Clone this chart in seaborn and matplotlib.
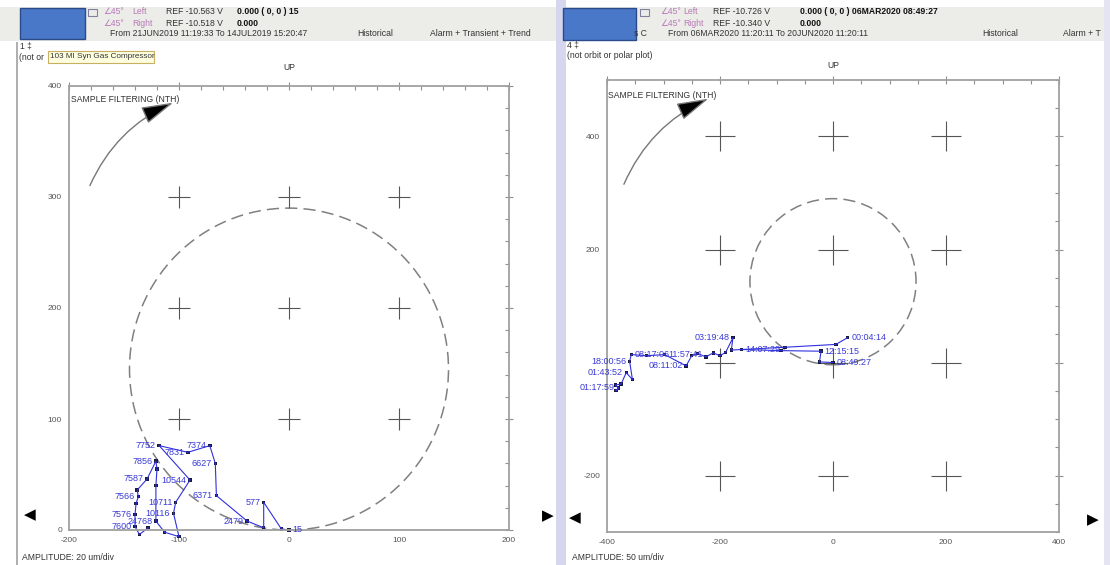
import pandas as pd
import seaborn as sns
import matplotlib.pyplot as plt
from matplotlib.patches import Rectangle, Circle
from matplotlib.ticker import MultipleLocator

W, H = 1110, 565

# ---- left orbit, 20 um/div ----
left_x = [0, -7, -23, -23, -38, -66, -67, -72, -92, -118, -90, -103, -105, -100,
          -113, -121, -121, -120, -121, -129, -138, -137, -139, -140, -140, -136, -128]
left_y = [0, 1, 25, 2, 8, 31, 60, 76, 70, 76, 45, 25, 15, -6,
          -2, 8, 40, 55, 62, 46, 36, 30, 24, 14, 3, -4, 2]
left_lbl = ["15", "", "577", "", "2479", "6371", "6627", "7374", "7831", "7752", "10544",
            "10711", "10116", "18716", "", "24768", "", "", "7856", "7587", "", "7566",
            "", "7576", "7600", "", ""]

# ---- right orbit, 50 um/div (two trace pieces) ----
right_seg = ["a"] * 24 + ["b"] * 5
right_x = [26, 5, -85, -162, -180, -177, -190, -200, -212, -225, -240, -250, -260,
           -298, -330, -357, -360, -355, -366, -375, -385, -380, -384, -380,
           -162, -92, -21, -24, 0]
right_y = [44, 32, 27, 23, 22, 44, 18, 12, 17, 10, 16, 12, -6,
           14, 12, 14, 2, -30, -18, -38, -40, -45, -50, -45,
           23, 21, 20, 1, 0]
right_lbl = ["00:04:14", "", "", "14:07:29", "", "03:19:48", "", "", "", "", "", "", "08:11:02",
             "11:57:41", "", "08:17:06", "18:00:56", "", "01:43:52", "", "", "01:17:59", "", "",
             "", "", "12:15:15", "", "08:49:27"]

# filter circle (centre x, centre y, radius) and the reference crosses
left_circle = (0, 145, 145)
right_circle = (0, 143, 147)
left_cross_x = [-100, 0, 100]
left_cross_y = [100, 200, 300]
right_cross_x = [-200, 0, 200]
right_cross_y = [-200, 0, 200, 400]

LABEL_RIGHT = {"15", "00:04:14", "14:07:29", "11:57:41", "08:17:06", "12:15:15", "08:49:27"}

sns.set_style("white")
plt.rcParams['font.family'] = ['Liberation Sans', 'DejaVu Sans']
plt.rcParams['axes.unicode_minus'] = False

fig = plt.figure(figsize=(W / 100, H / 100), dpi=100)


def fx(x):
    return x / W


def fy(y):
    return 1 - y / H


def ftext(x, y, s, size=6.2, color='#333333', **kw):
    fig.text(fx(x), fy(y), s, fontsize=size, color=color, va='center', ha=kw.pop('ha', 'left'), **kw)


def frect(x0, y0, x1, y1, **kw):
    fig.patches.append(Rectangle((fx(x0), fy(y1)), (x1 - x0) / W, (y1 - y0) / H,
                                 transform=fig.transFigure, figure=fig, **kw))


# window chrome
frect(0, 7, 556, 41, fc='#ecece8', ec='none')
frect(566, 7, 1104, 41, fc='#ecece8', ec='none')
frect(556, 0, 566, H, fc='#d6d6ee', ec='none')
frect(1104, 0, W, H, fc='#e4e4f2', ec='none')
frect(16, 42, 17.5, H, fc='#b0b0b0', ec='none')
frect(20, 8, 85, 39, fc='#4a78c8', ec='#2a4a8a', lw=1)
frect(563, 8, 636, 40, fc='#4a78c8', ec='#2a4a8a', lw=1)
frect(88, 9, 97, 16, fc='none', ec='#8080a0', lw=0.8)
frect(640, 9, 649, 16, fc='none', ec='#8080a0', lw=0.8)

pink = '#b87ab8'
for x0, xs in [(103, [132, 166, 237]), (660, [683, 713, 800])]:
    ftext(x0, 12, "∠45°", color=pink)
    ftext(x0, 23, "∠45°", color=pink)
    ftext(xs[0], 12, "Left", color=pink)
    ftext(xs[0], 23, "Right", color=pink)

ftext(166, 12, "REF -10.563 V")
ftext(166, 23, "REF -10.518 V")
ftext(237, 12, "0.000 ( 0, 0 ) 15", color='#111111', weight='bold')
ftext(237, 23, "0.000", color='#111111', weight='bold')
ftext(110, 34, "From 21JUN2019 11:19:33 To 14JUL2019 15:20:47")
ftext(357, 34, "Historical")
ftext(430, 34, "Alarm + Transient + Trend")
ftext(20, 46, "1 ‡")
ftext(19, 57, "(not or")
frect(48, 51, 154, 63, fc='#ffffe0', ec='#c8b060', lw=0.8)
ftext(50, 57, "103 MI Syn Gas Compressor", size=5.9)

ftext(713, 12, "REF -10.726 V")
ftext(713, 23, "REF -10.340 V")
ftext(800, 12, "0.000 ( 0, 0 ) 06MAR2020 08:49:27", color='#111111', weight='bold')
ftext(800, 23, "0.000", color='#111111', weight='bold')
ftext(634, 34, "s C")
ftext(668, 34, "From 06MAR2020 11:20:11 To 20JUN2020 11:20:11")
ftext(982, 34, "Historical")
ftext(1063, 34, "Alarm + T")
ftext(567, 45, "4 ‡")
ftext(567, 56, "(not orbit or polar plot)")

ftext(289, 67, "UP", ha='center')
ftext(833, 66, "UP", ha='center')
ftext(22, 557, "AMPLITUDE: 20 um/div")
ftext(572, 557, "AMPLITUDE: 50 um/div")
ftext(24, 515, "◀", size=11, color='black')
ftext(542, 516, "▶", size=11, color='black')
ftext(569, 518, "◀", size=11, color='black')
ftext(1087, 520, "▶", size=11, color='black')


def orbit(ax, df, xlim, ylim, major, minor, circle, cx, cy, cross_s, units=None):
    ax.set_xlim(*xlim)
    ax.set_ylim(*ylim)
    c = Circle(circle[:2], circle[2], fill=False, ec='#808080', lw=1.1, ls=(0, (8, 4)))
    ax.add_patch(c)
    crosses = pd.DataFrame([(a, b) for a in cx for b in cy], columns=['x', 'y'])
    sns.scatterplot(data=crosses, x='x', y='y', marker='+', s=cross_s, color='#555555',
                    linewidth=0.8, ax=ax, legend=False)
    if units:
        sns.lineplot(data=df, x='x', y='y', units=units, estimator=None, sort=False,
                     color='#3030e0', lw=0.8, ax=ax, legend=False)
    else:
        sns.lineplot(data=df, x='x', y='y', estimator=None, sort=False,
                     color='#3030e0', lw=0.8, ax=ax, legend=False)
    sns.scatterplot(data=df, x='x', y='y', s=6, color='#1a1a40', marker='s',
                    edgecolor='none', ax=ax, legend=False)
    for ln in ax.lines:
        ln.set_clip_on(False)
    for coll in ax.collections:
        coll.set_clip_on(False)
    for _, r in df[df['lbl'] != ""].iterrows():
        right = r['lbl'] in LABEL_RIGHT
        ax.annotate(r['lbl'], (r['x'], r['y']), xytext=(2.5 if right else -2.5, 0),
                    textcoords='offset points', ha='left' if right else 'right',
                    va='center', fontsize=6.5, color='#3a3ad8')
    ax.xaxis.set_major_locator(MultipleLocator(major))
    ax.yaxis.set_major_locator(MultipleLocator(major))
    ax.xaxis.set_minor_locator(MultipleLocator(minor))
    ax.yaxis.set_minor_locator(MultipleLocator(minor))
    ax.tick_params(which='major', direction='inout', length=6, width=0.8, color='#909090',
                   labelsize=6, labelcolor='#555555', top=True, right=True, pad=2)
    ax.tick_params(which='minor', direction='in', length=3, width=0.8, color='#909090',
                   top=True, right=True)
    for sp in ax.spines.values():
        sp.set_color('#a0a0a0')
        sp.set_linewidth(1.3)
    ax.set_xlabel('')
    ax.set_ylabel('')


left_df = pd.DataFrame({'x': left_x, 'y': left_y, 'lbl': left_lbl})
right_df = pd.DataFrame({'seg': right_seg, 'x': right_x, 'y': right_y, 'lbl': right_lbl})

ax1 = fig.add_axes([69 / W, (H - 530) / H, 440 / W, 444 / H])
orbit(ax1, left_df, (-200, 200), (0, 400), 100, 20, left_circle,
      left_cross_x, left_cross_y, 250)
ax1.text(-198, 388, "SAMPLE FILTERING (NTH)", fontsize=6.2, color='#333333', va='center')
ax1.annotate("", xy=(-103, 386), xytext=(-182, 308),
             arrowprops=dict(arrowstyle="-|>,head_length=0.8,head_width=0.22",
                             connectionstyle="arc3,rad=-0.2", mutation_scale=25,
                             fc='black', ec='#777777', lw=1))

ax2 = fig.add_axes([607 / W, 33 / H, 452 / W, 452 / H])
orbit(ax2, right_df, (-400, 400), (-300, 500), 200, 50, right_circle,
      right_cross_x, right_cross_y, 470, units='seg')
ax2.set_yticks([-200, 0, 200, 400])
ax2.set_yticklabels(['-200', '', '200', '400'])
ax2.text(-398, 472, "SAMPLE FILTERING (NTH)", fontsize=6.2, color='#333333', va='center')
ax2.annotate("", xy=(-216, 469), xytext=(-372, 311),
             arrowprops=dict(arrowstyle="-|>,head_length=0.8,head_width=0.22",
                             connectionstyle="arc3,rad=-0.2", mutation_scale=25,
                             fc='black', ec='#777777', lw=1))

fig.savefig('out.png', dpi=100)
